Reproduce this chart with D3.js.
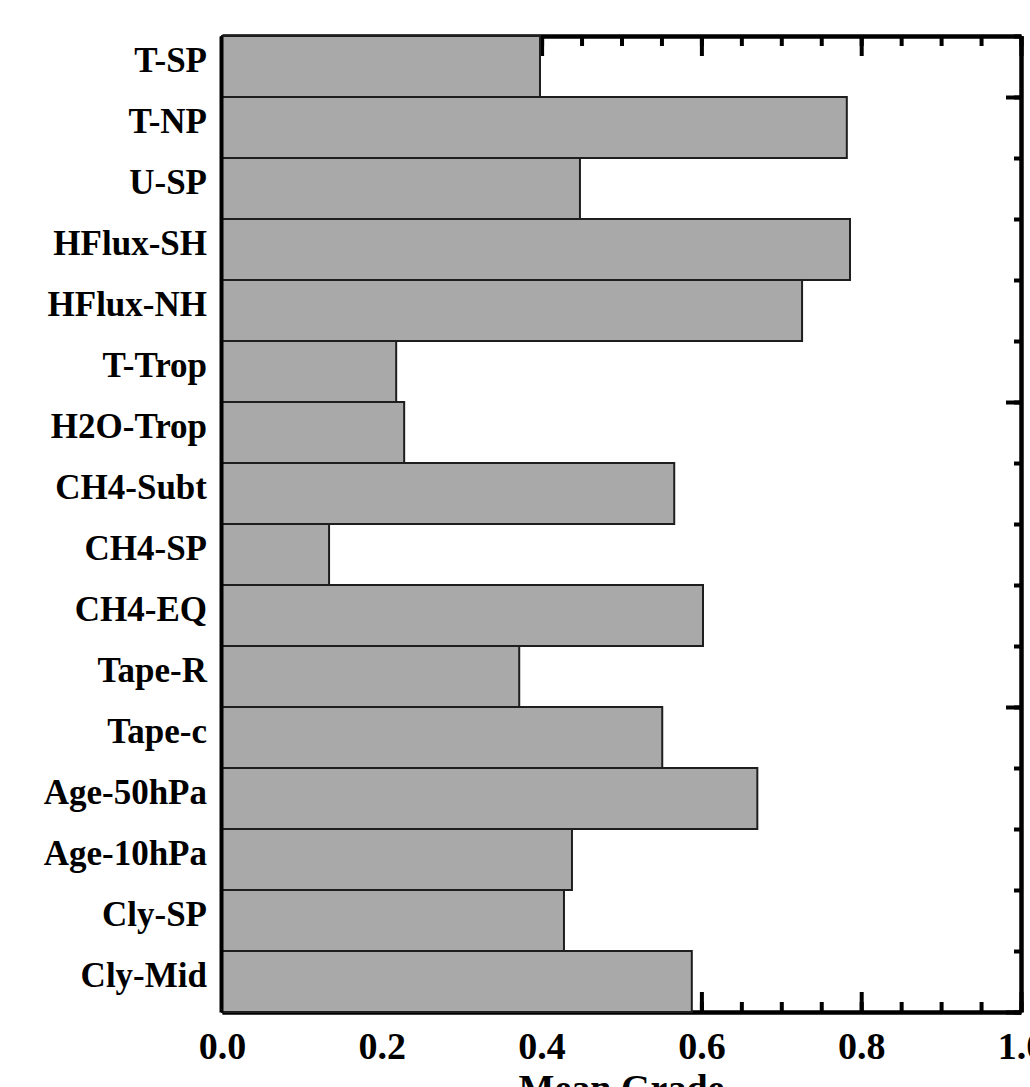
<!DOCTYPE html>
<html>
<head>
<meta charset="utf-8">
<script src="https://cdn.jsdelivr.net/npm/d3@7"></script>
<style>
  body { margin: 0; background: #fff; }
  svg { display: block; }
  text { font-family: "Liberation Serif", "Times New Roman", serif; font-weight: bold; fill: #000; }
</style>
</head>
<body>
<svg id="chart"></svg>
<script>
// mean grade per diagnostic

var categories = ["T-SP", "T-NP", "U-SP", "HFlux-SH", "HFlux-NH", "T-Trop", "H2O-Trop",
  "CH4-Subt", "CH4-SP", "CH4-EQ", "Tape-R", "Tape-c", "Age-50hPa", "Age-10hPa",
  "Cly-SP", "Cly-Mid"];

var grades = [0.398, 0.782, 0.448, 0.786, 0.726, 0.218, 0.228,
  0.566, 0.134, 0.602, 0.372, 0.551, 0.670, 0.438,
  0.428, 0.588];

var xMajorTicks = [0, 0.2, 0.4, 0.6, 0.8, 1.0];
var xMinorTicks = d3.range(0, 1.0001, 0.05);
var yMajorTicks = [0, 5, 10, 15];
var yMinorTicks = d3.range(0, 17, 1);

var width = 1030, height = 1087;
var plotLeft = 222, plotRight = 1021, plotTop = 36, plotBottom = 1012;

var chart = d3.select("#chart").attr("width", width).attr("height", height);

var xscale = d3.scaleLinear().domain([0, 1]).range([plotLeft, plotRight]);
var yband = d3.scaleBand().domain(categories).range([plotTop, plotBottom]).padding(0);
var ynum = d3.scaleLinear().domain([0, 16]).range([plotBottom, plotTop]);

var data = categories.map(function(c, i) { return { name: c, grade: grades[i] }; });

function styleAxis(g) {
  g.select(".domain").style("stroke", "#000").style("stroke-width", 4);
  g.selectAll(".tick line").style("stroke", "#000").style("stroke-width", 4);
}

// bottom axis: minor ticks, then major ticks with labels
chart.append("g")
  .attr("transform", "translate(0," + plotBottom + ")")
  .call(d3.axisBottom(xscale).tickValues(xMinorTicks).tickSizeInner(-10).tickSizeOuter(0).tickFormat(""))
  .call(styleAxis);

var xAxisBottom = chart.append("g")
  .attr("transform", "translate(0," + plotBottom + ")")
  .call(d3.axisBottom(xscale).tickValues(xMajorTicks).tickSizeInner(-20).tickSizeOuter(0)
    .tickPadding(20).tickFormat(d3.format(".1f")))
  .call(styleAxis);
xAxisBottom.selectAll("text").style("font-size", "38px");

// top axis
chart.append("g")
  .attr("transform", "translate(0," + plotTop + ")")
  .call(d3.axisBottom(xscale).tickValues(xMinorTicks).tickSizeInner(10).tickSizeOuter(0).tickFormat(""))
  .call(styleAxis);
chart.append("g")
  .attr("transform", "translate(0," + plotTop + ")")
  .call(d3.axisBottom(xscale).tickValues(xMajorTicks).tickSizeInner(20).tickSizeOuter(0).tickFormat(""))
  .call(styleAxis);

// right axis
chart.append("g")
  .attr("transform", "translate(" + plotRight + ",0)")
  .call(d3.axisLeft(ynum).tickValues(yMinorTicks).tickSizeInner(7).tickSizeOuter(0).tickFormat(""))
  .call(styleAxis);
chart.append("g")
  .attr("transform", "translate(" + plotRight + ",0)")
  .call(d3.axisLeft(ynum).tickValues(yMajorTicks).tickSizeInner(15).tickSizeOuter(0).tickFormat(""))
  .call(styleAxis);

// bars drawn over the frame
chart.append("g").selectAll("rect")
  .data(data)
  .enter()
  .append("rect")
  .attr("x", xscale(0))
  .attr("y", function(d) { return yband(d.name); })
  .attr("width", function(d) { return xscale(d.grade) - xscale(0); })
  .attr("height", yband.bandwidth())
  .style("fill", "#a9a9a9")
  .style("stroke", "#1e1e1e")
  .style("stroke-width", 2);

// left axis with category names
var yAxis = chart.append("g")
  .attr("transform", "translate(" + (plotLeft - 1) + ",0)")
  .call(d3.axisLeft(yband).tickSize(0).tickPadding(14))
  .call(styleAxis);
yAxis.selectAll("text").style("font-size", "35px").attr("dy", "0.15em");

// x title
chart.append("text")
  .attr("x", xscale(0.5))
  .attr("y", 1101)
  .attr("text-anchor", "middle")
  .style("font-size", "38px")
  .text("Mean Grade");
</script>
</body>
</html>
